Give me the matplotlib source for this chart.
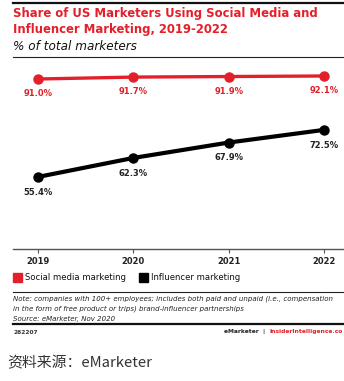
import matplotlib
matplotlib.use("Agg")
import matplotlib.pyplot as plt
from matplotlib.lines import Line2D
from matplotlib.patches import Rectangle

years = [2019, 2020, 2021, 2022]
social = [91.0, 91.7, 91.9, 92.1]
influencer = [55.4, 62.3, 67.9, 72.5]
social_labels = ["91.0%", "91.7%", "91.9%", "92.1%"]
influencer_labels = ["55.4%", "62.3%", "67.9%", "72.5%"]
tick_labels = ["2019", "2020", "2021", "2022"]

RED = "#E3202A"
BLACK = "#000000"
W, H = 344, 381
plt.rcParams['font.family'] = ['DejaVu Sans']

fig = plt.figure(figsize=(W / 100, H / 100), dpi=100)
renderer = fig.canvas.get_renderer()

def fx(px):
    return px / W

def fy(py):
    return 1 - py / H

def fit_text(x, y, s, width_px, size0, **kw):
    t = fig.text(fx(x), fy(y), s, fontsize=size0, va='center', ha='left', **kw)
    w = t.get_window_extent(renderer).width
    t.set_fontsize(size0 * width_px / w)
    return t

# axes: left 13, right 344, top 57, bottom 249
ax = fig.add_axes([fx(13), fy(249), fx(344 - 13), (249 - 57) / H])
ax.plot(years, social, color=RED, lw=2.4, marker='o', ms=6.5, zorder=3, clip_on=False)
ax.plot(years, influencer, color=BLACK, lw=3.0, marker='o', ms=6.5, zorder=3, clip_on=False)
for x, y, t in zip(years, social, social_labels):
    ax.annotate(t, (x, y), xytext=(0, -10.5), textcoords='offset points', ha='center', va='center',
                color=RED, fontsize=6.0, fontweight='bold')
for x, y, t in zip(years, influencer, influencer_labels):
    ax.annotate(t, (x, y), xytext=(0, -11), textcoords='offset points', ha='center', va='center',
                color='#222222', fontsize=6.0, fontweight='bold')
ax.set_xlim(2018.738, 2022.21)
ax.set_ylim(29.2, 99.0)
ax.set_xticks(years)
ax.set_xticklabels(tick_labels, fontsize=6.0, fontweight='bold', color='#222222')
ax.set_yticks([])
for s in ['top', 'right', 'left']:
    ax.spines[s].set_visible(False)
ax.spines['bottom'].set_color('#555555')
ax.spines['bottom'].set_linewidth(1.0)
ax.tick_params(axis='x', length=3, width=0.8, color='#555555', pad=3)
ax.patch.set_visible(False)

# lines
fig.add_artist(Line2D([fx(13), 1], [fy(3), fy(3)], color='#111111', lw=1.6))
fig.add_artist(Line2D([fx(13), 1], [fy(57), fy(57)], color='#222222', lw=0.8))
fig.add_artist(Line2D([fx(13), 1], [fy(292), fy(292)], color='#222222', lw=0.8))
fig.add_artist(Line2D([fx(13), 1], [fy(324), fy(324)], color='#111111', lw=1.6))

# title
t1 = fit_text(13, 14, "Share of US Marketers Using Social Media and", 303, 8.5, color=RED, fontweight='bold')
fig.text(fx(13), fy(30), "Influencer Marketing, 2019-2022", color=RED,
         fontsize=t1.get_fontsize(), fontweight='bold', va='center', ha='left')
fit_text(13, 46, "% of total marketers", 124, 8, color='#111111', style='italic')

# legend
fig.add_artist(Rectangle((fx(13), fy(282)), fx(9), 9 / H, color=RED))
fit_text(25, 277.5, "Social media marketing", 101, 6.5, color='#111111')
fig.add_artist(Rectangle((fx(139), fy(282)), fx(9), 9 / H, color=BLACK))
fit_text(151, 277.5, "Influencer marketing", 89, 6.5, color='#111111')

# notes
n1 = fit_text(13, 299, "Note: companies with 100+ employees; includes both paid and unpaid (i.e., compensation",
              320, 5.5, style='italic', color='#222222')
ns = n1.get_fontsize()
fig.text(fx(13), fy(309), "in the form of free product or trips) brand-influencer partnerships",
         fontsize=ns, style='italic', va='center', ha='left', color='#222222')
fig.text(fx(13), fy(318.5), "Source: eMarketer, Nov 2020",
         fontsize=ns, style='italic', va='center', ha='left', color='#222222')

fig.text(fx(13), fy(332), "262207", fontsize=4.2, fontweight='bold', va='center', ha='left', color='#333333')
r = fig.text(fx(343), fy(332), "InsiderIntelligence.co", fontsize=4.3, fontweight='bold',
             va='center', ha='right', color=RED)
rx = r.get_window_extent(renderer).x0
fig.text(rx / W, fy(332), "eMarketer  |  ", fontsize=4.3, fontweight='bold', va='center', ha='right', color='#222222')

fig.text(fx(7), fy(363), "资料来源：eMarketer", fontsize=10.7, va='center', ha='left', color='#333333',
         family=['Noto Sans CJK SC', 'DejaVu Sans'])

fig.savefig("out.png", dpi=100, facecolor='white')
